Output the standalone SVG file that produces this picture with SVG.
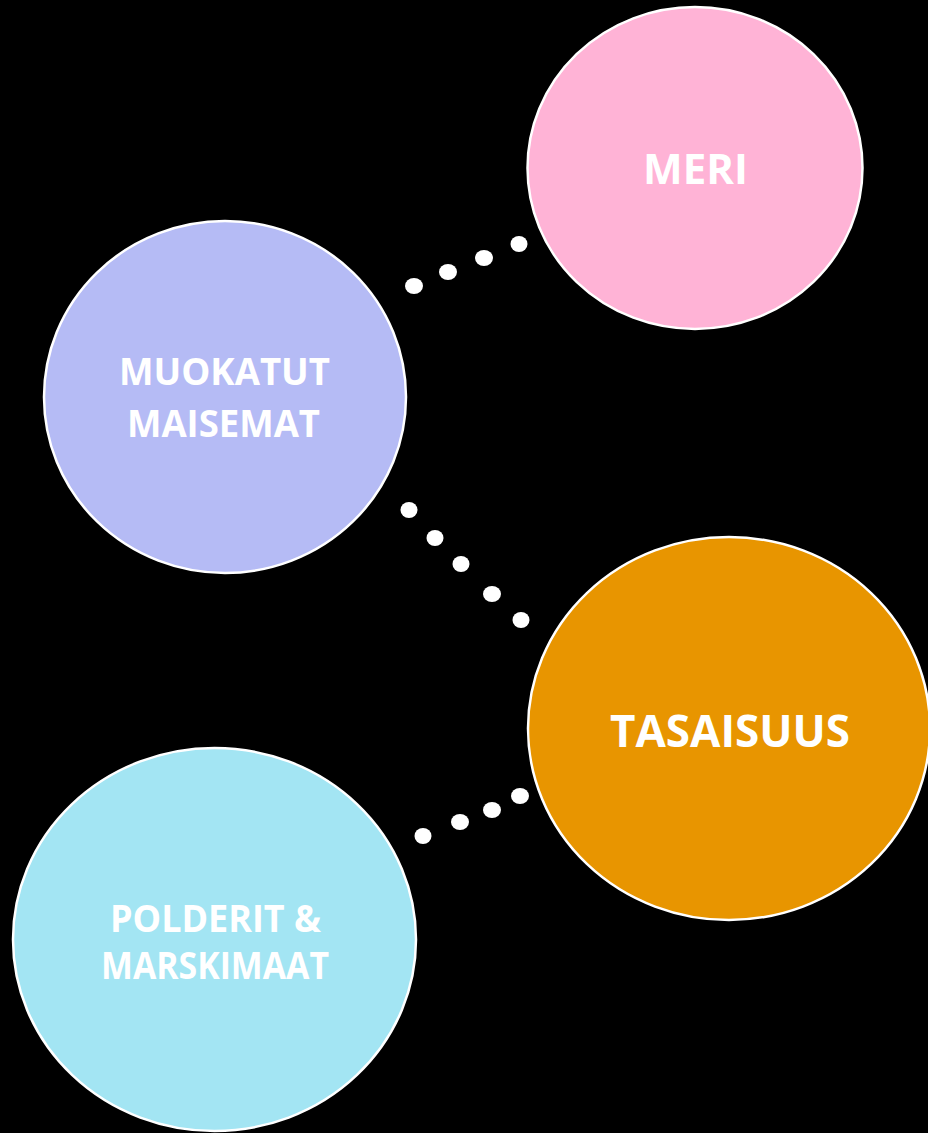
<svg xmlns="http://www.w3.org/2000/svg" width="928" height="1133" viewBox="0 0 928 1133">
<style>
.node{stroke:#ffffff;stroke-width:2.5}
.lbl{font-family:"Open Sans","Liberation Sans",sans-serif;font-weight:bold;fill:#ffffff;text-anchor:middle}
.dot{fill:#ffffff}
</style>
<rect x="0" y="0" width="928" height="1133" fill="#000000"/>
<g id="connectors">
<ellipse class="dot" cx="414" cy="286" rx="9" ry="8"/>
<ellipse class="dot" cx="448" cy="272" rx="9" ry="8"/>
<ellipse class="dot" cx="484" cy="258" rx="9" ry="8"/>
<ellipse class="dot" cx="519" cy="244" rx="8.5" ry="8"/>
<ellipse class="dot" cx="409" cy="510" rx="8.5" ry="8"/>
<ellipse class="dot" cx="435" cy="538" rx="8.5" ry="8"/>
<ellipse class="dot" cx="461" cy="564" rx="8.5" ry="8"/>
<ellipse class="dot" cx="492" cy="594" rx="9" ry="8"/>
<ellipse class="dot" cx="521" cy="620" rx="8.5" ry="8"/>
<ellipse class="dot" cx="423" cy="836" rx="8.5" ry="8"/>
<ellipse class="dot" cx="460" cy="822" rx="9" ry="8"/>
<ellipse class="dot" cx="492" cy="810" rx="9" ry="8"/>
<ellipse class="dot" cx="520" cy="796" rx="9" ry="8"/>
</g>
<g id="meri">
<ellipse class="node" cx="695" cy="168" rx="167.5" ry="161" fill="#FFB3D6"/>
<text class="lbl" x="695.5" y="184" font-size="42">MERI</text>
</g>
<g id="muokatut">
<ellipse class="node" cx="225" cy="397" rx="181" ry="176" fill="#B5BBF5"/>
<text class="lbl" x="224.5" y="385" font-size="38" textLength="211" lengthAdjust="spacingAndGlyphs">MUOKATUT</text>
<text class="lbl" x="223.5" y="437" font-size="38" textLength="193" lengthAdjust="spacingAndGlyphs">MAISEMAT</text>
</g>
<g id="tasaisuus">
<ellipse class="node" cx="729" cy="728.5" rx="201" ry="191.5" fill="#E89500"/>
<text class="lbl" x="730" y="747" font-size="44">TASAISUUS</text>
</g>
<g id="polderit">
<ellipse class="node" cx="214.5" cy="939.5" rx="201.5" ry="191.5" fill="#A3E5F3"/>
<text class="lbl" x="215.5" y="932" font-size="37" textLength="211" lengthAdjust="spacingAndGlyphs">POLDERIT &amp;</text>
<text class="lbl" x="215" y="979" font-size="37" textLength="228" lengthAdjust="spacingAndGlyphs">MARSKIMAAT</text>
</g>
</svg>
